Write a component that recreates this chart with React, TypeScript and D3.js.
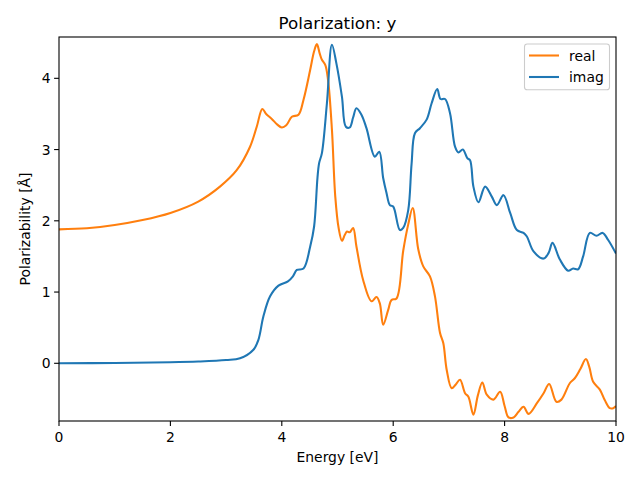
import React from "react";
import * as d3 from "d3";

const realE = [0, 0.5, 1, 1.5, 2, 2.5, 2.89, 3.19, 3.43, 3.55, 3.65, 3.72, 3.82, 3.92, 4.0, 4.08, 4.18, 4.3, 4.39, 4.51, 4.58, 4.63, 4.68, 4.72, 4.78, 4.83, 4.9, 4.96, 5.02, 5.08, 5.13, 5.17, 5.22, 5.28, 5.34, 5.46, 5.61, 5.70, 5.76, 5.82, 5.91, 5.97, 6.06, 6.18, 6.27, 6.35, 6.45, 6.54, 6.66, 6.75, 6.84, 6.90, 6.96, 7.05, 7.12, 7.2, 7.29, 7.35, 7.44, 7.52, 7.6, 7.68, 7.80, 7.92, 8.0, 8.07, 8.16, 8.25, 8.34, 8.43, 8.58, 8.70, 8.80, 8.93, 9.02, 9.17, 9.26, 9.36, 9.46, 9.52, 9.59, 9.71, 9.80, 9.89, 9.95, 10];
const realV = [1.88, 1.895, 1.94, 2.01, 2.11, 2.27, 2.48, 2.71, 3.04, 3.32, 3.57, 3.5, 3.43, 3.35, 3.31, 3.34, 3.46, 3.49, 3.70, 4.12, 4.38, 4.48, 4.35, 4.26, 4.19, 3.98, 3.28, 2.34, 1.9, 1.72, 1.8, 1.85, 1.84, 1.90, 1.64, 1.17, 0.87, 0.93, 0.84, 0.54, 0.75, 0.89, 0.91, 1.58, 1.95, 2.18, 1.6, 1.36, 1.22, 0.94, 0.43, 0.28, -0.09, -0.35, -0.3, -0.23, -0.42, -0.47, -0.72, -0.45, -0.27, -0.44, -0.51, -0.40, -0.6, -0.76, -0.76, -0.68, -0.61, -0.71, -0.56, -0.42, -0.29, -0.54, -0.51, -0.28, -0.21, -0.08, 0.06, -0.05, -0.26, -0.37, -0.52, -0.63, -0.63, -0.6];

const imagE = [0, 1, 2, 2.5, 3, 3.25, 3.49, 3.58, 3.67, 3.79, 3.94, 4.11, 4.2, 4.27, 4.39, 4.51, 4.58, 4.64, 4.67, 4.72, 4.81, 4.90, 4.98, 5.08, 5.15, 5.22, 5.28, 5.34, 5.43, 5.52, 5.67, 5.75, 5.82, 5.88, 5.94, 6.0, 6.12, 6.18, 6.27, 6.33, 6.39, 6.48, 6.60, 6.69, 6.79, 6.85, 6.93, 7.02, 7.11, 7.17, 7.25, 7.33, 7.38, 7.44, 7.53, 7.65, 7.77, 7.86, 7.98, 8.10, 8.22, 8.34, 8.40, 8.52, 8.70, 8.79, 8.86, 8.99, 9.14, 9.23, 9.32, 9.41, 9.53, 9.65, 9.76, 9.86, 10];
const imagV = [0, 0.005, 0.015, 0.025, 0.045, 0.07, 0.19, 0.33, 0.66, 0.94, 1.09, 1.15, 1.22, 1.31, 1.33, 1.64, 1.92, 2.6, 2.81, 2.95, 3.65, 4.47, 4.21, 3.74, 3.32, 3.31, 3.45, 3.58, 3.49, 3.30, 2.90, 2.97, 2.6, 2.39, 2.22, 2.20, 1.87, 1.90, 2.15, 2.8, 3.23, 3.30, 3.42, 3.65, 3.85, 3.71, 3.71, 3.51, 3.04, 2.96, 3.0, 2.88, 2.85, 2.48, 2.26, 2.48, 2.34, 2.22, 2.36, 2.11, 1.87, 1.83, 1.78, 1.57, 1.47, 1.55, 1.69, 1.46, 1.30, 1.33, 1.32, 1.50, 1.83, 1.79, 1.83, 1.73, 1.54];

const xTicks = [0, 2, 4, 6, 8, 10];
const yTicks = [0, 1, 2, 3, 4];

const W = 640, H = 480;
const left = 59, right = 616, top = 37, bottom = 421;

export default function App() {
  const x = d3.scaleLinear().domain([0, 10]).range([left, right]);
  const y = d3.scaleLinear().domain([-0.81, 4.58]).range([bottom, top]);
  const line = d3
    .line<[number, number]>()
    .x((d) => x(d[0]))
    .y((d) => y(d[1]))
    .curve(d3.curveCatmullRom.alpha(0.5));
  const realPts: [number, number][] = realE.map((e, i) => [e, realV[i]]);
  const imagPts: [number, number][] = imagE.map((e, i) => [e, imagV[i]]);
  const font = "DejaVu Sans, sans-serif";
  const fs = 13.9;
  return (
    <svg width={W} height={H} style={{ position: "absolute", left: 0, top: 0, background: "#fff" }} fontFamily={font}>
      <rect x={0} y={0} width={W} height={H} fill="#fff" />
      <defs>
        <clipPath id="clip">
          <rect x={left} y={top} width={right - left} height={bottom - top} />
        </clipPath>
      </defs>
      <g clipPath="url(#clip)">
        <path d={line(realPts) || ""} fill="none" stroke="#ff7f0e" strokeWidth={2.08} strokeLinejoin="round" />
        <path d={line(imagPts) || ""} fill="none" stroke="#1f77b4" strokeWidth={2.08} strokeLinejoin="round" />
      </g>
      <rect x={left} y={top} width={right - left} height={bottom - top} fill="none" stroke="#000" strokeWidth={1.1} />
      {xTicks.map((t) => (
        <g key={"x" + t}>
          <line x1={x(t)} x2={x(t)} y1={bottom} y2={bottom + 4.9} stroke="#000" strokeWidth={1.1} />
          <text x={x(t)} y={bottom + 21} textAnchor="middle" fontSize={fs} fill="#000">{t}</text>
        </g>
      ))}
      {yTicks.map((t) => (
        <g key={"y" + t}>
          <line x1={left - 4.9} x2={left} y1={y(t)} y2={y(t)} stroke="#000" strokeWidth={1.1} />
          <text x={left - 8.4} y={y(t) + 5} textAnchor="end" fontSize={fs} fill="#000">{t}</text>
        </g>
      ))}
      <text x={(left + right) / 2} y={28.5} textAnchor="middle" fontSize={16.7} fill="#000">Polarization: y</text>
      <text x={(left + right) / 2} y={462} textAnchor="middle" fontSize={fs} fill="#000">Energy [eV]</text>
      <text transform={`translate(30,${(top + bottom) / 2}) rotate(-90)`} textAnchor="middle" fontSize={fs} fill="#000">Polarizability [Å]</text>
      <g>
        <rect x={524.5} y={44} width={85} height={45.7} rx={2.8} fill="#fff" fillOpacity={0.8} stroke="#cccccc" strokeWidth={1.1} />
        <line x1={529} x2={559} y1={55.5} y2={55.5} stroke="#ff7f0e" strokeWidth={2.08} />
        <text x={569} y={60.5} fontSize={fs} fill="#000">real</text>
        <line x1={529} x2={559} y1={77} y2={77} stroke="#1f77b4" strokeWidth={2.08} />
        <text x={569} y={82} fontSize={fs} fill="#000">imag</text>
      </g>
    </svg>
  );
}
